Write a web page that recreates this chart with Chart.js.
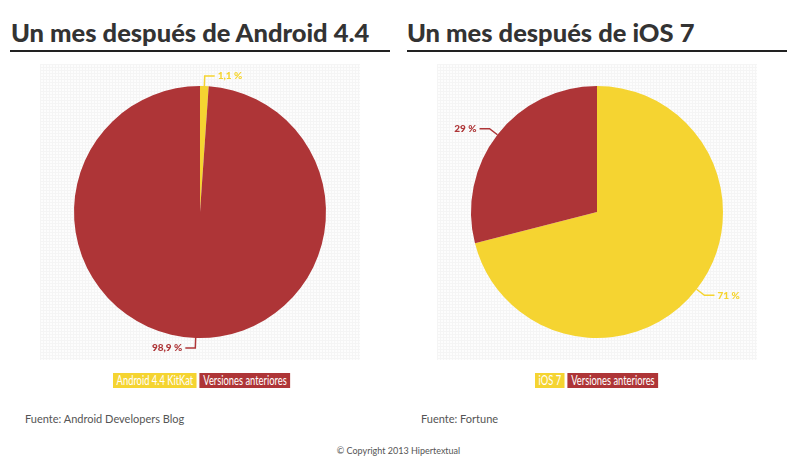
<!DOCTYPE html>
<html>
<head>
<meta charset="utf-8">
<script src="https://cdn.jsdelivr.net/npm/chart.js@4"></script>
<style>
body { margin: 0; background: #fff; width: 801px; height: 471px; position: relative; overflow: hidden; }
h2, p, div, canvas { position: absolute; margin: 0; }
h2 { font: 900 25.5px Lato, sans-serif; color: #333; top: 17px; white-space: nowrap; }
.rule { top: 50px; height: 2px; background: #222; }
canvas {
    background-color: #fdfdfd;
    background-image: linear-gradient(#f5f5f5 1px, transparent 1px), linear-gradient(90deg, #f5f5f5 1px, transparent 1px);
    background-size: 3px 3px;
}
.legend { top: 373px; height: 15px; display: flex; gap: 4px; white-space: nowrap; transform: scaleX(0.72); transform-origin: left top; }
.legend span { color: #fff; padding: 0 5px; font: 13px/15px Lato, sans-serif; }
.source { top: 412px; font: 11px Lato, sans-serif; color: #555; white-space: nowrap; }
.copy { top: 445px; left: 0; width: 797px; text-align: center; font: 9px Lato, sans-serif; color: #555; }
</style>
</head>
<body>
<h2 id="title1" style="left:11px"></h2>
<div class="rule" style="left:10px;width:380px"></div>
<h2 id="title2" style="left:407px"></h2>
<div class="rule" style="left:407px;width:380px"></div>

<canvas id="android" width="320" height="296" style="left:40px;top:64px"></canvas>
<canvas id="ios" width="320" height="296" style="left:437px;top:64px"></canvas>

<div class="legend" id="legend1" style="left:113px"></div>
<div class="legend" id="legend2" style="left:535px"></div>

<p class="source" id="source1" style="left:25px"></p>
<p class="source" id="source2" style="left:421px"></p>
<p class="copy">© Copyright 2013 Hipertextual</p>

<script>
const androidLabels = ['Android 4.4 KitKat', 'Versiones anteriores'];
const androidValues = [1.1, 98.9];
const iosLabels = ['iOS 7', 'Versiones anteriores'];
const iosValues = [71, 29];
const sliceColors = ['#f5d431', '#ae3537'];

document.getElementById('title1').textContent = 'Un mes después de Android 4.4';
document.getElementById('title2').textContent = 'Un mes después de iOS 7';
document.getElementById('source1').textContent = 'Fuente: Android Developers Blog';
document.getElementById('source2').textContent = 'Fuente: Fortune';

// leader line and value label for every slice
const sliceLabels = {
    id: 'sliceLabels',
    afterDatasetsDraw(chart) {
        const ctx = chart.ctx;
        const values = chart.data.datasets[0].data;
        chart.getDatasetMeta(0).data.forEach((arc, i) => {
            const p = arc.getProps(['x', 'y', 'startAngle', 'endAngle', 'outerRadius'], true);
            const mid = (p.startAngle + p.endAngle) / 2;
            const side = Math.cos(mid) >= 0 ? 1 : -1;
            const elbowX = p.x + Math.cos(mid) * (p.outerRadius + 10);
            const elbowY = p.y + Math.sin(mid) * (p.outerRadius + 10);
            ctx.save();
            ctx.strokeStyle = sliceColors[i];
            ctx.lineWidth = 1.5;
            ctx.beginPath();
            ctx.moveTo(p.x + Math.cos(mid) * p.outerRadius, p.y + Math.sin(mid) * p.outerRadius);
            ctx.lineTo(elbowX, elbowY);
            ctx.lineTo(elbowX + side * 10, elbowY);
            ctx.stroke();
            ctx.fillStyle = sliceColors[i];
            ctx.font = '900 10px Lato, sans-serif';
            ctx.textAlign = side > 0 ? 'left' : 'right';
            ctx.textBaseline = 'middle';
            ctx.fillText(String(values[i]).replace('.', ',') + ' %', elbowX + side * 13, elbowY);
            ctx.restore();
        });
    }
};

function renderPie(canvasId, labels, values) {
    new Chart(document.getElementById(canvasId), {
        type: 'pie',
        data: {
            labels: labels,
            datasets: [{ data: values, backgroundColor: sliceColors, borderWidth: 0 }]
        },
        options: {
            responsive: false,
            animation: false,
            radius: 126,
            plugins: { legend: { display: false }, tooltip: { enabled: false } }
        },
        plugins: [sliceLabels]
    });
}

function renderLegend(boxId, labels) {
    const box = document.getElementById(boxId);
    labels.forEach((label, i) => {
        const item = document.createElement('span');
        item.textContent = label;
        item.style.background = sliceColors[i];
        box.appendChild(item);
    });
}

renderPie('android', androidLabels, androidValues);
renderPie('ios', iosLabels, iosValues);
renderLegend('legend1', androidLabels);
renderLegend('legend2', iosLabels);
</script>
</body>
</html>
